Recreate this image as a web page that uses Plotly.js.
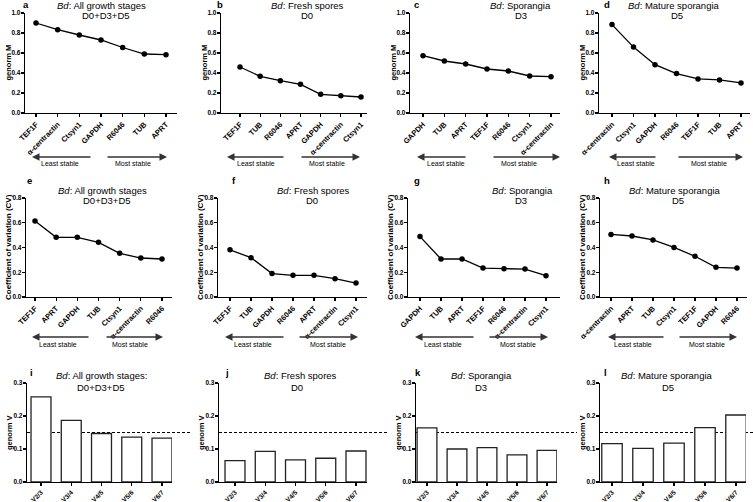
<!DOCTYPE html>
<html><head><meta charset="utf-8">
<script src="https://cdn.plot.ly/plotly-3.0.1.min.js"></script>
<style>html,body{margin:0;padding:0;background:#fff}#chart{width:753px;height:502px}</style>
</head><body><div id="chart"></div>
<script>
// ---------- DATA ----------
const genesA = ['TEF1F','α-centractin','Ctsyn1','GAPDH','R6046','TUB','APRT'];
const genormA = [0.90,0.833,0.78,0.73,0.655,0.59,0.583];
const genesB = ['TEF1F','TUB','R6046','APRT','GAPDH','α-centractin','Ctsyn1'];
const genormB = [0.46,0.367,0.323,0.287,0.187,0.173,0.16];
const genesC = ['GAPDH','TUB','APRT','TEF1F','R6046','Ctsyn1','α-centractin'];
const genormC = [0.573,0.52,0.49,0.44,0.42,0.37,0.363];
const genesD = ['α-centractin','Ctsyn1','GAPDH','R6046','TEF1F','TUB','APRT'];
const genormD = [0.884,0.659,0.483,0.394,0.341,0.331,0.301];

const genesE = ['TEF1F','APRT','GAPDH','TUB','Ctsyn1','α-centractin','R6046'];
const cvE = [0.615,0.482,0.482,0.442,0.353,0.315,0.307];
const genesF = ['TEF1F','TUB','GAPDH','R6046','APRT','α-centractin','Ctsyn1'];
const cvF = [0.381,0.318,0.189,0.175,0.175,0.148,0.113];
const genesG = ['GAPDH','TUB','APRT','TEF1F','R6046','α-centractin','Ctsyn1'];
const cvG = [0.488,0.307,0.307,0.234,0.229,0.226,0.172];
const genesH = ['α-centractin','APRT','TUB','Ctsyn1','TEF1F','GAPDH','R6046'];
const cvH = [0.506,0.493,0.461,0.401,0.329,0.24,0.234];

const pairLabels = ['V2/3','V3/4','V4/5','V5/6','V6/7'];
const vI = [0.258,0.187,0.147,0.136,0.133];
const vJ = [0.065,0.093,0.067,0.072,0.094];
const vK = [0.164,0.10,0.104,0.082,0.096];
const vL = [0.116,0.102,0.118,0.165,0.203];
const cutoffV = 0.15;

const titlesAll = ['<i>Bd</i>: All growth stages','D0+D3+D5'];
const titlesAllColon = ['<i>Bd</i>: All growth stages:','D0+D3+D5'];
const titlesD0 = ['<i>Bd</i>: Fresh spores','D0'];
const titlesD3 = ['<i>Bd</i>: Sporangia','D3'];
const titlesD5 = ['<i>Bd</i>: Mature sporangia','D5'];
const leastLabel = 'Least stable', mostLabel = 'Most stable';

// ---------- LAYOUT CONFIG (pixel positions) ----------
const W = 753, H = 502;
const fx = v => v / W;
const fy = v => 1 - v / H;
const FONT = 'Arial, "Liberation Sans", Helvetica, sans-serif';

const rows = {
  1:{top:13, bot:113, yr:[0,1], dtick:0.2, ytitle:'genorm M', yts:7.5, t1:5.5, t2:16, ly:5, arrY:157, txtY:164, xts:7.5},
  2:{top:198, bot:297, yr:[0,0.8], dtick:0.2, ytitle:'Coefficient of variation (CV)', yts:8, t1:190, t2:200.5, ly:180, arrY:337, txtY:344, xts:7.5},
  3:{top:383, bot:482, yr:[0,0.3], dtick:0.1, ytitle:'genorm V', yts:7.5, t1:375, t2:387, ly:372, xts:6.5}
};

const panels = [
  {L:'a',row:1,kind:'line',cats:genesA,vals:genormA,x0:25,x1:177,p0:36,pn:166,t:titlesAll,tx:[101,106],lx:26,arr:[32,92,106,167],txt:[60,133]},
  {L:'b',row:1,kind:'line',cats:genesB,vals:genormB,x0:221,x1:367,p0:240,pn:361,t:titlesD0,tx:[307,307],lx:220,arr:[227,285,300,360],txt:[256,327]},
  {L:'c',row:1,kind:'line',cats:genesC,vals:genormC,x0:410,x1:560,p0:423,pn:551,t:titlesD3,tx:[520,521],lx:417,arr:[417,467,492,560],txt:[446,519]},
  {L:'d',row:1,kind:'line',cats:genesD,vals:genormD,x0:599,x1:750,p0:612,pn:741,t:titlesD5,tx:[674,677],lx:607,arr:[609,657,677,743],txt:[636,709]},
  {L:'e',row:2,kind:'line',cats:genesE,vals:cvE,x0:26,x1:172,p0:35,pn:162,t:titlesAll,tx:[103,107],lx:29,arr:[32,90,105,163],txt:[58,130]},
  {L:'f',row:2,kind:'line',cats:genesF,vals:cvF,x0:218,x1:367,p0:230,pn:356,t:titlesD0,tx:[313,312],lx:234,arr:[225,285,298,358],txt:[253,328]},
  {L:'g',row:2,kind:'line',cats:genesG,vals:cvG,x0:408,x1:560,p0:420,pn:546,t:titlesD3,tx:[522,521],lx:417,arr:[415,475,488,548],txt:[443,518]},
  {L:'h',row:2,kind:'line',cats:genesH,vals:cvH,x0:600,x1:747,p0:611,pn:737,t:titlesD5,tx:[675,678],lx:607,arr:[608,665,678,737],txt:[633,707]},
  {L:'i',row:3,kind:'bar',cats:pairLabels,vals:vI,x0:27,x1:172,p0:41,pn:162,t:titlesAllColon,tx:[101,101],lx:32},
  {L:'j',row:3,kind:'bar',cats:pairLabels,vals:vJ,x0:219,x1:367,p0:235,pn:356,t:titlesD0,tx:[300,297],lx:227},
  {L:'k',row:3,kind:'bar',cats:pairLabels,vals:vK,x0:416,x1:557,p0:427,pn:547,t:titlesD3,tx:[481,481],lx:418},
  {L:'l',row:3,kind:'bar',cats:pairLabels,vals:vL,x0:600,x1:746,p0:612,pn:736,t:titlesD5,tx:[667,668],lx:605}
];

const traces = [];
const layout = {
  width: W, height: H,
  margin: {l:0, r:0, t:0, b:0},
  paper_bgcolor: '#fff', plot_bgcolor: 'rgba(0,0,0,0)',
  showlegend: false,
  font: {family: FONT, color: '#000'},
  annotations: [], shapes: []
};

panels.forEach((p, i) => {
  const n = i + 1;
  const xa = 'xaxis' + (n === 1 ? '' : n), ya = 'yaxis' + (n === 1 ? '' : n);
  const xid = 'x' + (n === 1 ? '' : n), yid = 'y' + (n === 1 ? '' : n);
  const r = rows[p.row];
  const cnt = p.cats.length;
  const s = (p.pn - p.p0) / (cnt - 1);
  const xr = [-(p.p0 - p.x0) / s, (cnt - 1) + (p.x1 - p.pn) / s];
  const idx = p.cats.map((_, k) => k);

  if (p.kind === 'line') {
    traces.push({type:'scatter', mode:'lines+markers', x: idx, y: p.vals, xaxis: xid, yaxis: yid,
      line:{color:'#000', width:1.3}, marker:{color:'#000', size:5.5}, cliponaxis:false, hoverinfo:'skip'});
  } else {
    traces.push({type:'bar', x: idx, y: p.vals, xaxis: xid, yaxis: yid, width: 0.66,
      marker:{color:'#fff', line:{color:'#222', width:1.3}}, hoverinfo:'skip'});
    layout.shapes.push({type:'line', layer:'below', xref:'paper', yref: yid,
      x0: fx(p.x0), x1: fx(Math.min(p.x1 + 20, W)), y0: cutoffV, y1: cutoffV,
      line:{color:'#000', width:1, dash:'3px,2px'}});
  }

  layout[xa] = {domain:[fx(p.x0), fx(p.x1)], range: xr, anchor: yid, fixedrange:true,
    tickmode:'array', tickvals: idx, ticktext: p.cats, tickangle:-45,
    showline:true, linecolor:'#000', linewidth:1.2, ticks:'outside', ticklen:3, tickwidth:1.2, tickcolor:'#000',
    showgrid:false, zeroline:false, tickfont:{family:FONT, size:r.xts, weight:'bold', color:'#000'}};
  layout[ya] = {domain:[fy(r.bot), fy(r.top)], range: r.yr, anchor: xid, fixedrange:true,
    tick0:0, dtick:r.dtick, tickformat:'.1f', ticklabelstandoff:-1,
    showline:true, linecolor:'#000', linewidth:1.2, ticks:'outside', ticklen:3, tickwidth:1.2, tickcolor:'#000',
    showgrid:false, zeroline:false, tickfont:{family:FONT, size:6.5, weight:'bold', color:'#000'}};

  const A = layout.annotations;
  A.push({xref:'paper', yref:'paper', x:fx(p.tx[0]), y:fy(r.t1), text:p.t[0], showarrow:false,
    xanchor:'center', yanchor:'middle', font:{family:FONT, size:9.5, color:'#000'}});
  A.push({xref:'paper', yref:'paper', x:fx(p.tx[1]), y:fy(r.t2), text:p.t[1], showarrow:false,
    xanchor:'center', yanchor:'middle', font:{family:FONT, size:9.5, color:'#000'}});
  A.push({xref:'paper', yref:'paper', x:fx(p.lx), y:fy(r.ly), text:'<b>'+p.L+'</b>', showarrow:false,
    xanchor:'center', yanchor:'middle', font:{family:FONT, size:9.5, color:'#000'}});
  A.push({xref:'paper', yref:'paper', x:fx(p.x0 - 17.5), y:fy((r.top + r.bot) / 2), text:'<b>'+r.ytitle+'</b>',
    textangle:-90, showarrow:false, xanchor:'center', yanchor:'middle', font:{family:FONT, size:r.yts, color:'#000'}});
  if (p.arr) {
    A.push({xref:'paper', yref:'paper', x:fx(p.arr[0]), y:fy(r.arrY), ax:(p.arr[1]-p.arr[0]), ay:0,
      axref:'pixel', ayref:'pixel', showarrow:true, arrowhead:2, arrowsize:1, arrowwidth:1.5, arrowcolor:'#333', text:''});
    A.push({xref:'paper', yref:'paper', x:fx(p.arr[3]), y:fy(r.arrY), ax:-(p.arr[3]-p.arr[2]), ay:0,
      axref:'pixel', ayref:'pixel', showarrow:true, arrowhead:2, arrowsize:1, arrowwidth:1.5, arrowcolor:'#333', text:''});
    A.push({xref:'paper', yref:'paper', x:fx(p.txt[0]), y:fy(r.txtY), text:leastLabel, showarrow:false,
      xanchor:'center', yanchor:'middle', font:{family:FONT, size:7, color:'#000'}});
    A.push({xref:'paper', yref:'paper', x:fx(p.txt[1]), y:fy(r.txtY), text:mostLabel, showarrow:false,
      xanchor:'center', yanchor:'middle', font:{family:FONT, size:7, color:'#000'}});
  }
});

Plotly.newPlot('chart', traces, layout, {staticPlot:true, displayModeBar:false});
</script>
</body></html>
